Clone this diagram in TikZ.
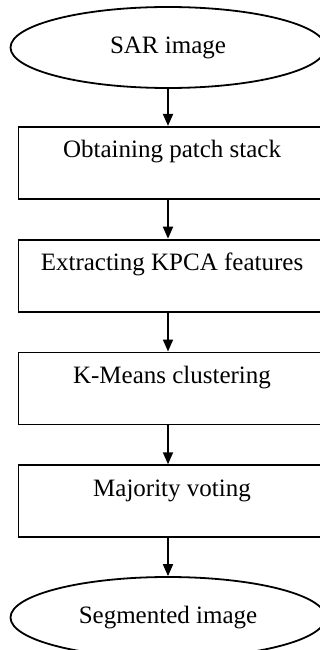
\documentclass[tikz,border=0pt]{standalone}
\usepackage{fontspec}
\setmainfont{Liberation Serif}
\usetikzlibrary{arrows.meta,shapes.geometric,positioning}

\begin{document}
\begin{tikzpicture}[x=1pt,y=1pt,->,>={Triangle[length=12pt,width=10pt]},line width=1.8pt,
    font=\fontsize{25}{30}\selectfont,
    term/.style={ellipse,draw,minimum width=315pt,minimum height=81pt,inner sep=0pt},
    proc/.style={rectangle,draw,minimum width=307pt,text height=31pt,text depth=41pt,inner sep=0pt}]
	  \useasboundingbox (0,0) rectangle (320,-650);
	  \node[term] (sar) at (168,-47.5) {SAR image};
	  \node[proc] (patch) [below=37pt of sar,xshift=4pt] {Obtaining patch stack};
	  \node[proc] (kpca) [below=39pt of patch] {Extracting KPCA features};
	  \node[proc] (kmeans) [below=39pt of kpca] {K-Means clustering};
	  \node[proc] (vote) [below=39pt of kmeans] {Majority voting};
	  \node[term] (seg) [below=38pt of vote,xshift=-4pt] {Segmented image};
	  \draw (sar.south) -- (sar.south |- patch.north);
	  \draw (patch.south -| sar.south) -- (kpca.north -| sar.south);
	  \draw (kpca.south -| sar.south) -- (kmeans.north -| sar.south);
	  \draw (kmeans.south -| sar.south) -- (vote.north -| sar.south);
	  \draw (vote.south -| sar.south) -- (seg.north);
	\end{tikzpicture}
\end{document}
